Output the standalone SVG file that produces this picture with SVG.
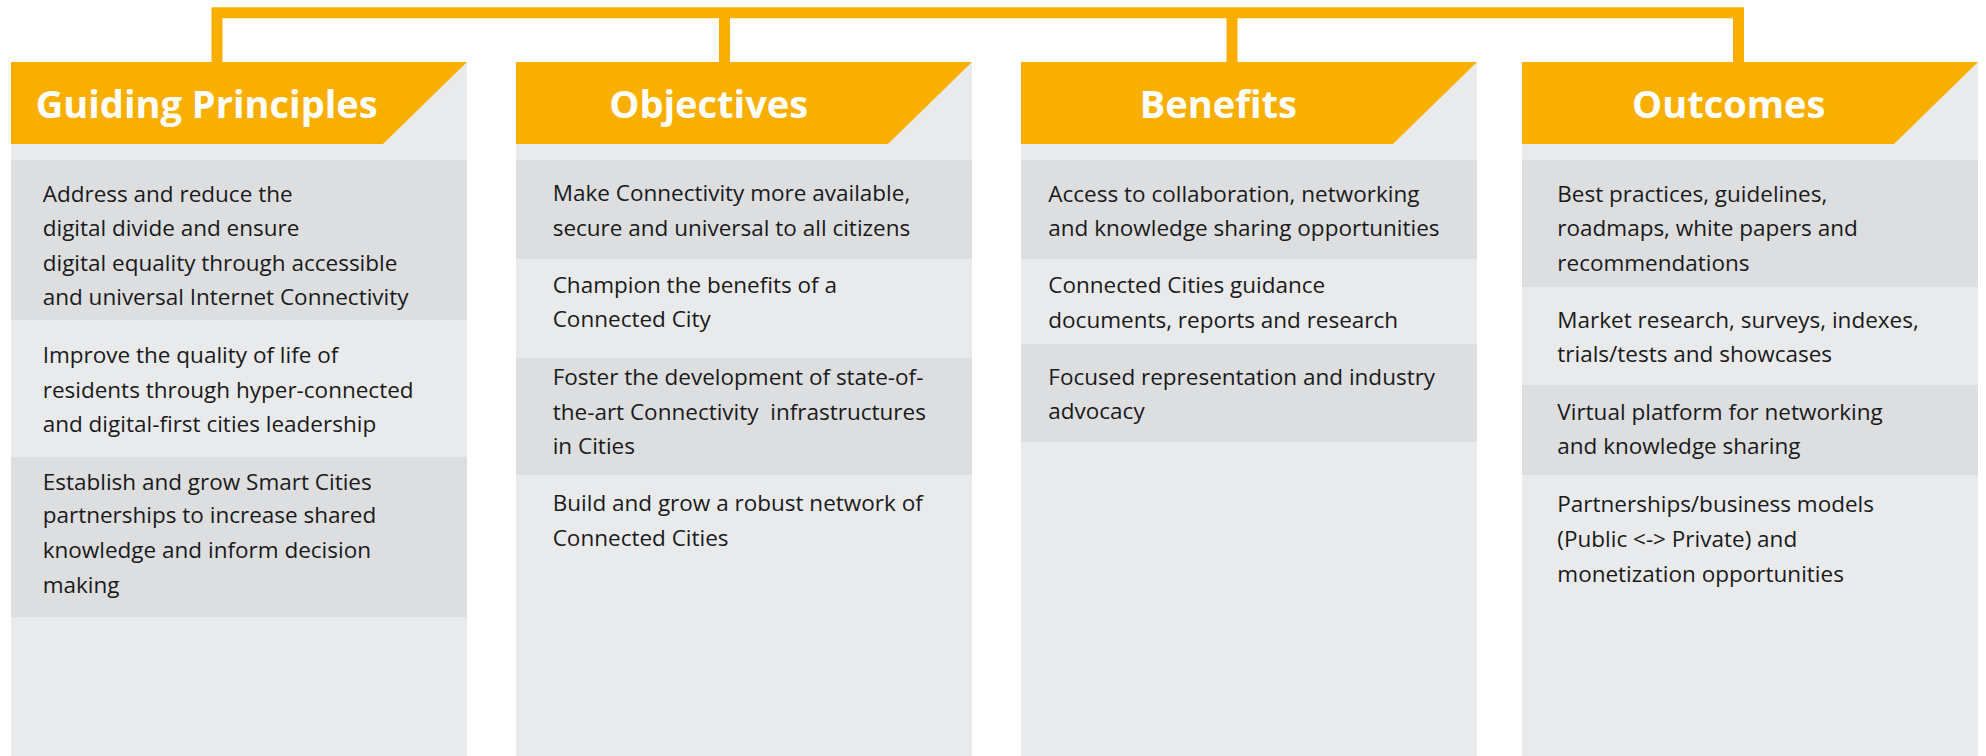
<svg xmlns="http://www.w3.org/2000/svg" width="1986" height="756" viewBox="0 0 1986 756">
<style>
.panel{fill:#E9EAEC}
.band{fill:#DDDEE0}
.hdr{fill:#F9AF00}
.title{font-family:"Open Sans","Liberation Sans",sans-serif;font-weight:700;font-size:38px;fill:#FFFFFF;text-anchor:middle}
.body{font-family:"Open Sans","Liberation Sans",sans-serif;font-size:22.5px;fill:#1A1A1A}
.conn{fill:none;stroke:#F9AF00;stroke-width:11}
</style>
<rect width="1986" height="756" fill="#FFFFFF"/>
<g id="connectors">
<polyline class="conn" points="217,62 217,12.8 1738.5,12.8 1738.5,62"/>
<line class="conn" x1="724.5" y1="12.8" x2="724.5" y2="62"/>
<line class="conn" x1="1232" y1="12.8" x2="1232" y2="62"/>
</g>
<g id="guiding-principles">
<rect class="panel" x="11" y="62" width="456" height="694"/>
<polygon class="hdr" points="11,62 467,62 383,144 11,144"/>
<rect class="band" x="11" y="160" width="456" height="160"/>
<rect class="band" x="11" y="457" width="456" height="160"/>
<text class="title" x="206.7" y="118">Guiding Principles</text>
<text class="body" x="42.7"><tspan x="42.7" y="201.7">Address and reduce the</tspan><tspan x="42.7" y="236">digital divide and ensure</tspan><tspan x="42.7" y="270.7">digital equality through accessible</tspan><tspan x="42.7" y="305">and universal Internet Connectivity</tspan></text>
<text class="body"><tspan x="42.7" y="362.7">Improve the quality of life of</tspan><tspan x="42.7" y="397.7">residents through hyper-connected</tspan><tspan x="42.7" y="431.7">and digital-first cities leadership</tspan></text>
<text class="body"><tspan x="42.7" y="490">Establish and grow Smart Cities</tspan><tspan x="42.7" y="523.3">partnerships to increase shared</tspan><tspan x="42.7" y="558.3">knowledge and inform decision</tspan><tspan x="42.7" y="592.7">making</tspan></text>
</g>
<g id="objectives">
<rect class="panel" x="516" y="62" width="456" height="694"/>
<polygon class="hdr" points="516,62 972,62 888,144 516,144"/>
<rect class="band" x="516" y="160" width="456" height="99"/>
<rect class="band" x="516" y="358" width="456" height="117"/>
<text class="title" x="708.7" y="118">Objectives</text>
<text class="body"><tspan x="552.7" y="201">Make Connectivity more available,</tspan><tspan x="552.7" y="235.5">secure and universal to all citizens</tspan></text>
<text class="body"><tspan x="552.7" y="292.7">Champion the benefits of a</tspan><tspan x="552.7" y="327.3">Connected City</tspan></text>
<text class="body"><tspan x="552.7" y="385">Foster the development of state-of-</tspan><tspan x="552.7" y="420" xml:space="preserve">the-art Connectivity  infrastructures</tspan><tspan x="552.7" y="454">in Cities</tspan></text>
<text class="body"><tspan x="552.7" y="511">Build and grow a robust network of</tspan><tspan x="552.7" y="546">Connected Cities</tspan></text>
</g>
<g id="benefits">
<rect class="panel" x="1021" y="62" width="456" height="694"/>
<polygon class="hdr" points="1021,62 1477,62 1393,144 1021,144"/>
<rect class="band" x="1021" y="160" width="456" height="99"/>
<rect class="band" x="1021" y="344" width="456" height="98"/>
<text class="title" x="1218.3" y="118">Benefits</text>
<text class="body"><tspan x="1048.3" y="201.7">Access to collaboration, networking</tspan><tspan x="1048.3" y="236">and knowledge sharing opportunities</tspan></text>
<text class="body"><tspan x="1048.3" y="293.3">Connected Cities guidance</tspan><tspan x="1048.3" y="327.7">documents, reports and research</tspan></text>
<text class="body"><tspan x="1048.3" y="385">Focused representation and industry</tspan><tspan x="1048.3" y="419.3">advocacy</tspan></text>
</g>
<g id="outcomes">
<rect class="panel" x="1522" y="62" width="456" height="694"/>
<polygon class="hdr" points="1522,62 1978,62 1894,144 1522,144"/>
<rect class="band" x="1522" y="160" width="456" height="127"/>
<rect class="band" x="1522" y="385" width="456" height="90"/>
<text class="title" x="1728.7" y="118">Outcomes</text>
<text class="body"><tspan x="1557.3" y="201.7">Best practices, guidelines,</tspan><tspan x="1557.3" y="236">roadmaps, white papers and</tspan><tspan x="1557.3" y="270.7">recommendations</tspan></text>
<text class="body"><tspan x="1557.3" y="328.3">Market research, surveys, indexes,</tspan><tspan x="1557.3" y="361.7">trials/tests and showcases</tspan></text>
<text class="body"><tspan x="1557.3" y="420">Virtual platform for networking</tspan><tspan x="1557.3" y="454">and knowledge sharing</tspan></text>
<text class="body"><tspan x="1557.3" y="511.7">Partnerships/business models</tspan><tspan x="1557.3" y="546.7">(Public &lt;-&gt; Private) and</tspan><tspan x="1557.3" y="581.7">monetization opportunities</tspan></text>
</g>
</svg>
